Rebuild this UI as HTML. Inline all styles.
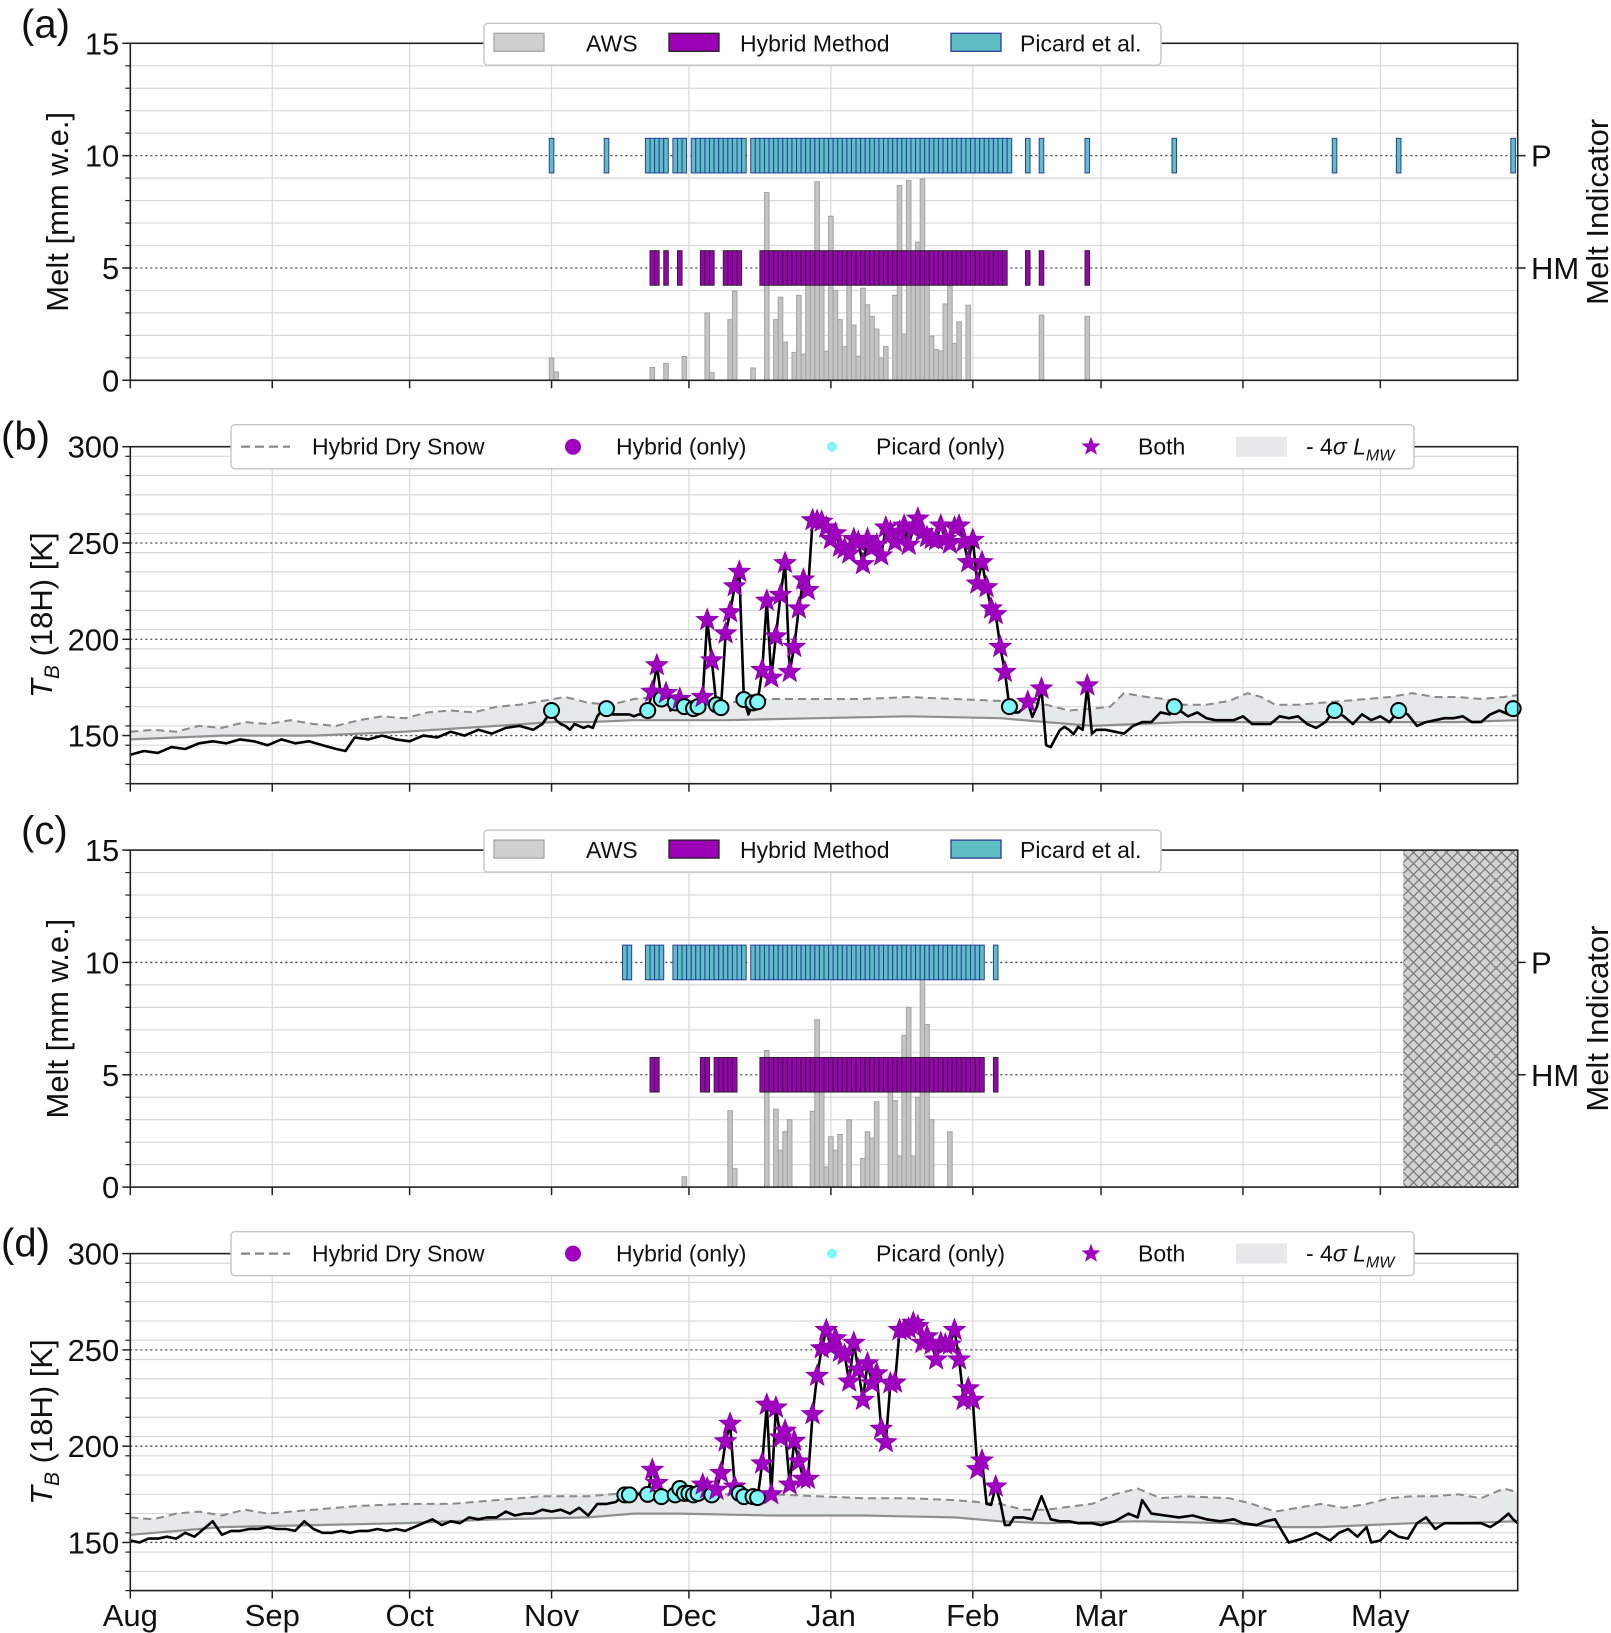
<!DOCTYPE html>
<html><head><meta charset="utf-8"><title>Melt chart</title>
<style>
html,body{margin:0;padding:0;background:#fff;}
svg{display:block;font-family:"Liberation Sans",Arial,sans-serif;}
</style></head>
<body>
<svg id="chart" width="1611" height="1633" viewBox="0 0 1611 1633" xmlns="http://www.w3.org/2000/svg">
<defs>
<pattern id="hatch" patternUnits="userSpaceOnUse" width="11" height="11">
<rect width="11" height="11" fill="#d3d3d3"/>
<path d="M0,0 L11,11 M11,0 L0,11" stroke="#777" stroke-width="1.2"/>
</pattern>
</defs>
</svg>
<script>
// ===== Data (day index = days since Aug 1) =====
const monthNames = ["Aug","Sep","Oct","Nov","Dec","Jan","Feb","Mar","Apr","May"];
const monthDays = [0,31,61,92,122,153,184,212,243,273];
const meltTicks = [0,5,10,15];
const tbTicks = [150,200,250,300];

// Panel (a) AWS melt
const awsADays = [92,93,114,117,121,126,127,131,132,136,139,141,142,143,145,146,147,148,149,150,151,152,153,154,155,156,157,158,159,160,161,162,163,164,165,167,168,169,170,171,172,173,174,175,176,177,178,179,180,181,183,199,209];
const awsAVals = [1.0,0.37,0.57,0.75,1.06,3.0,0.34,2.7,3.97,0.55,8.36,2.7,3.7,1.7,1.24,3.78,1.16,5.5,5.5,8.84,5.5,1.3,7.3,4.0,2.7,1.5,5.0,2.46,1.07,4.1,3.36,2.84,2.28,1.0,1.5,3.78,8.67,2.06,8.9,5.5,6.15,8.96,5.0,1.97,1.37,1.31,3.4,4.2,1.64,2.6,3.34,2.9,2.84];
const picardADays = [92,104,113,114,115,116,117,119,120,121,123,124,125,126,127,128,129,130,131,132,133,134].concat(Array.from({length:57},(_,i)=>136+i)).concat([196,199,209,228,263,277,302]);
const hybridADays = [114,115,117,120,125,126,127,130,131,132,133].concat(Array.from({length:54},(_,i)=>138+i)).concat([196,199,209]);

// Panel (b) brightness temperature
const tbBDays = [0,3,6,9,12,15,18,21,24,27,30,33,36,39,42,45,47,49,52,55,58,61,64,67,70,73,76,79,82,85,88,90,
92,93,94,95,96,97,98,99,100,101,102,103,104,105,106,107,108,109,110,111,112,113,114,115,116,117,118,119,120,121,122,123,124,125,126,127,128,129,130,131,132,133,134,135,136,137,138,139,140,141,142,143,144,145,146,147,148,149,150,151,152,153,154,155,156,157,158,159,160,161,162,163,164,165,166,167,168,169,170,171,172,173,174,175,176,177,178,179,180,181,182,183,184,185,186,187,188,189,190,191,192,193,194,195,196,197,198,199,200,201,202,203,204,205,206,207,208,209,210,
211,213,215,217,219,221,223,225,227,228,231,233,235,237,239,241,243,245,247,249,251,253,255,257,259,261,263,265,267,269,271,273,275,277,279,281,283,285,287,289,291,293,295,297,299,301,302,303];
const tbBVals = [140,142,141,144,143,146,147,146,148,147,145,148,146,147,145,143,142,149,148,150,148,147,150,149,152,150,153,151,154,155,153,156,
163,158,156,155,153,156,155,154,155,154,160,163,164,161,161,161,161,161,160,161,161,163,172.7,186.5,169,172,163,167,169,165,165,164,165,170,210,189,166,164.5,203,214,227.5,235,168.7,161,167,167.5,184,220,180,201.5,223,239.5,183,196,216,231,225.5,261.8,261.4,261,258,252,255,248,247,244.5,252,250.5,239,252,247.7,249,243.5,258,255.7,250.5,255.7,259,249,257.4,262.6,255.7,253,252,251.4,259,252,249.6,258,259,250.5,240,251.6,228.9,240,227,216,213,196,183,165,162,162,164,167.5,159.7,165,174.4,145,144,148.4,152.8,154.5,153,150.7,154.5,153,176,151,
153,153,152,151,155,157,157,162,161,165,160,162,159,158,158,158,160,156,156,156,160,159,160,156,154,157,163,160,156,161,158,160,157,163,161,155,157,158,159,159,160,157,157,161,163,161,164,160];
const dryBDays = [0,5,10,15,20,25,30,35,40,45,50,55,60,65,70,75,80,85,90,95,100,105,110,115,120,125,130,140,150,160,170,180,190,195,200,205,210,214,217,222,226,230,235,240,244,247,250,255,260,265,270,275,280,285,290,295,300,303];
const dryBVals = [152,153,152,155,154,157,156,158,156,155,158,160,159,162,163,162,165,166,168,170,167,166,169,170,168,169,167,169,169,169,170,169,168,168,166,163,164,165,172,170,169,166,166,168,172,170,166,166,167,168,169,170,172,170,170,169,170,171];
const lowBDays = [0,20,40,60,80,92,100,110,120,130,150,170,190,200,210,230,250,270,290,303];
const lowBVals = [148,150,150,152,155,157,157,158,158,158,159,160,159,157,155,157,157,157,157,158];

// Panel (c) AWS melt
const awsCDays = [121,131,132,139,141,142,143,144,149,150,151,152,153,154,155,157,160,161,162,163,166,167,168,169,170,171,172,173,174,175,179];
const awsCVals = [0.46,3.4,0.82,6.08,3.47,1.64,2.47,3.0,3.37,7.45,5.5,0.9,2.24,1.64,2.34,3.0,1.28,2.46,2.18,3.8,4.8,3.85,1.39,6.75,8.0,1.39,4.0,9.24,7.24,3.0,2.46];
const picardCDays = [108,109,113,114,115,116].concat(Array.from({length:16},(_,i)=>119+i)).concat(Array.from({length:51},(_,i)=>136+i)).concat([189]);
const hybridCDays = [114,115,125,126,128,129,130,131,132].concat(Array.from({length:49},(_,i)=>138+i)).concat([189]);
const noDataStart = 278;

// Panel (d) brightness temperature
const tbDDays = [0,2,4,6,8,10,12,14,16,18,20,22,24,26,28,30,32,34,36,38,40,42,44,46,48,50,52,54,56,58,60,62,64,66,68,70,72,74,76,78,80,82,84,86,88,90,92,94,96,
98,100,102,104,106,107,108,109,110,111,112,113,114,115,116,117,118,119,120,121,122,123,124,125,126,127,128,129,130,131,132,133,134,135,136,137,138,139,140,141,142,143,144,145,146,147,148,149,150,151,152,153,154,155,156,157,158,159,160,161,162,163,164,165,166,167,168,169,170,171,172,173,174,175,176,177,178,179,180,181,182,183,184,185,186,187,188,189,190,191,192,
193,195,197,199,201,203,205,207,210,212,215,218,220,221,223,226,229,232,235,238,241,243,246,248,250,253,256,259,262,264,266,268,270,271,273,275,277,279,281,283,285,287,289,291,293,295,297,299,301,302,303];
const tbDVals = [151,150,152,152,153,152,155,153,157,161,154,156,156,157,157,158,157,157,156,161,157,155,155,156,155,156,156,157,156,157,156,158,160,162,159,161,160,163,162,163,163,166,164,165,165,167,166,167,165,
168,164,170,170,171,173,174.7,174.7,175,175,175,175,187.7,180.8,173.8,173,173.5,174.7,178,175.5,175.5,174.7,175.5,180,178,174.7,177.3,186,202.5,211.6,179,175.5,173.8,173,173.8,173.3,191,221.5,175,220,204.5,208,180,202.7,192,183,183,216.6,236.5,250.8,260.3,251.6,256,249,247.4,233.5,253.6,239.7,224,243,232.6,237.8,209,202,232.6,233,260.3,260.3,261,264,262.3,253.6,257,252.7,245,253.6,252.7,252.7,260.3,245,224,230,224,188,192.5,170,169.5,179,171,159,159,
163,163,162,174,162,161,161,160,160,159,161,165,163,172,165,164,163,164,162,161,162,160,159,161,162,150,152,155,151,155,157,153,158,150,151,156,153,152,160,163,157,160,160,160,160,160,158,161,165,162,160];
const dryDDays = [0,5,10,15,20,25,30,40,50,60,70,80,90,100,110,120,130,140,150,160,170,180,190,195,200,210,215,220,225,230,240,245,250,255,260,265,270,275,280,285,290,295,300,303];
const dryDVals = [163,162,165,166,164,167,165,167,169,170,170,172,174,174,176,176,175,175,174,173,173,172,170,167,167,170,175,178,173,174,173,170,166,168,170,168,170,173,174,174,175,173,178,176];
const lowDDays = [0,20,40,60,80,100,110,120,140,160,180,190,200,220,240,250,260,270,280,290,303];
const lowDVals = [154,158,159,160,162,163,165,165,164,164,163,161,160,161,160,158,158,159,160,160,161];

// ===== Layout =====
const NS = "http://www.w3.org/2000/svg";
const svg = document.getElementById("chart");
const X0 = 130.3, X1 = 1517.7, NDAYS = 303, H = 337;
const TICKFS = 31;
const xS = d => X0 + d * (X1 - X0) / NDAYS;
function mk(tag, attrs, parent) {
  const e = document.createElementNS(NS, tag);
  for (const k in attrs) e.setAttribute(k, attrs[k]);
  (parent || svg).appendChild(e);
  return e;
}
function txt(s, attrs, parent) { const t = mk("text", attrs, parent); t.textContent = s; return t; }
function line(x1,y1,x2,y2,st,parent){ return mk("line",{x1:x1,y1:y1,x2:x2,y2:y2,style:st},parent); }

function frameAndGrid(g, top, ymin, ymax, minorStep, majorVals) {
  const yS = v => top + (ymax - v) / (ymax - ymin) * H;
  for (let v = ymin; v <= ymax + 0.001; v += minorStep) {
    if (v === ymin || v === ymax) continue;
    if (majorVals.indexOf(v) >= 0) continue;
    line(X0, yS(v), X1, yS(v), "stroke:#d9d9d9;stroke-width:1.2", g);
  }
  for (const m of monthDays) { if (m > 0) line(xS(m), top, xS(m), top + H, "stroke:#d9d9d9;stroke-width:1.2", g); }
  for (const v of majorVals) { if (v > ymin && v < ymax) line(X0, yS(v), X1, yS(v), "stroke:#444;stroke-width:1.3;stroke-dasharray:2,3", g); }
  return yS;
}
function axesOverlay(g, top, ymin, ymax, minorStep, tickVals, showMonths, yS) {
  mk("rect",{x:X0,y:top,width:X1-X0,height:H,fill:"none",stroke:"#222","stroke-width":1.6},g);
  for (let v = ymin; v <= ymax + 0.001; v += minorStep) line(X0-5, yS(v), X0, yS(v), "stroke:#222;stroke-width:1.2", g);
  for (const v of tickVals) {
    line(X0-8, yS(v), X0, yS(v), "stroke:#222;stroke-width:1.5", g);
    const t = txt(String(v), {x:X0-11, y:yS(v)+11, "text-anchor":"end", "font-size":TICKFS, fill:"#111"}, g);
    
    
  }
  for (let i = 0; i < monthDays.length; i++) {
    line(xS(monthDays[i]), top+H, xS(monthDays[i]), top+H+8, "stroke:#222;stroke-width:1.5", g);
    if (showMonths) {
      const t = txt(monthNames[i], {x:xS(monthDays[i]), y:1626, "text-anchor":"middle", "font-size":TICKFS, fill:"#111"}, g);
      
      
    }
  }
}

function meltPanel(top, letter, awsDays, awsVals, pDays, hDays, hatchFrom) {
  const g = mk("g", {});
  
  
  const yS = frameAndGrid(g, top, 0, 15, 1, [5,10]);
  const bw = (X1 - X0) / NDAYS;
  for (let i = 0; i < awsDays.length; i++) {
    const r = mk("rect", {x:xS(awsDays[i])-bw/2, y:yS(awsVals[i]), width:bw, height:yS(0)-yS(awsVals[i]), fill:"#c4c4c4", stroke:"#a3a3a3", "stroke-width":1}, g);
    
    
  }
  for (const d of pDays) {
    const r = mk("rect", {x:xS(d)-bw/2, y:yS(10.77), width:bw, height:yS(9.23)-yS(10.77), fill:"#5fbec4", stroke:"#2a3f9a", "stroke-width":1}, g);
    
    
  }
  for (const d of hDays) {
    const r = mk("rect", {x:xS(d)-bw/2, y:yS(5.77), width:bw, height:yS(4.23)-yS(5.77), fill:"#9c00b4", stroke:"#2a2a2a", "stroke-width":1}, g);
    
    
  }
  if (hatchFrom !== null) {
    const r = mk("rect", {x:xS(hatchFrom), y:top, width:X1-xS(hatchFrom), height:H, fill:"url(#hatch)"}, g);
    
    
  }
  axesOverlay(g, top, 0, 15, 1, meltTicks, false, yS);
  line(X1, yS(10), X1+8, yS(10), "stroke:#222;stroke-width:1.5", g);
  line(X1, yS(5), X1+8, yS(5), "stroke:#222;stroke-width:1.5", g);
  let t = txt("P", {x:1531, y:yS(10)+11, "font-size":TICKFS, fill:"#111"}, g);
  
  
  t = txt("HM", {x:1531, y:yS(5)+11, "font-size":TICKFS, fill:"#111"}, g);
  
  
  t = txt("Melt Indicator", {x:0, y:0, "font-size":31, fill:"#111", "text-anchor":"middle", transform:"translate(1608," + (top+H/2) + ") rotate(-90)"}, g);
  
  
  t = txt("Melt [mm w.e.]", {x:0, y:0, "font-size":31, fill:"#111", "text-anchor":"middle", transform:"translate(68," + (top+H/2) + ") rotate(-90)"}, g);
  
  
  t = txt("(" + letter + ")", {x:21, y:top-6, "font-size":40, fill:"#111"}, g);
  
  
  const lg = mk("g", {}, g);
  
  
  mk("rect", {x:484, y:top-20, width:677, height:42, rx:4, fill:"#fff", stroke:"#c8c8c8", "stroke-width":1.5}, lg);
  const items = [["AWS","#cfcfcf","#a6a6a6",494,586],["Hybrid Method","#9c00b4","#222",669,740],["Picard et al.","#5fbec4","#2a3f9a",951,1020]];
  for (const it of items) {
    const sw = mk("rect", {x:it[3], y:top-10, width:50, height:18, fill:it[1], stroke:it[2], "stroke-width":1.3}, lg);
    
    
    const lt = txt(it[0], {x:it[4], y:top+8, "font-size":23, fill:"#111"}, lg);
    
    
  }
}

function starPts(cx, cy, R) {
  const r = R * 0.42, p = [];
  for (let i = 0; i < 10; i++) {
    const a = -Math.PI/2 + i * Math.PI/5, rr = i % 2 ? r : R;
    p.push((cx + rr*Math.cos(a)).toFixed(1) + "," + (cy + rr*Math.sin(a)).toFixed(1));
  }
  return p.join(" ");
}
function pathFrom(days, vals, yS) {
  return days.map((d,i)=> (i?"L":"M") + xS(d).toFixed(1) + "," + yS(vals[i]).toFixed(1)).join(" ");
}

function tbPanel(top, letter, days, vals, dDays, dVals, lDays, lVals, pDays, hDays, showMonths) {
  const g = mk("g", {});
  
  
  const yS = frameAndGrid(g, top, 125, 300, 10, [150,200,250]);
  const up = pathFrom(dDays, dVals, yS);
  const lowRev = lDays.slice().reverse().map((d,i)=> "L" + xS(d).toFixed(1) + "," + yS(lVals[lDays.length-1-i]).toFixed(1)).join(" ");
  let e = mk("path", {d: up + " " + lowRev + " Z", fill:"#e6e9e9", stroke:"none"}, g);
  
  
  e = mk("path", {d: pathFrom(lDays, lVals, yS), fill:"none", stroke:"#8f8f8f", "stroke-width":2.2}, g);
  
  
  e = mk("path", {d: pathFrom(dDays, dVals, yS), fill:"none", stroke:"#8a8a8a", "stroke-width":2, "stroke-dasharray":"8,5"}, g);
  
  
  e = mk("path", {d: pathFrom(days, vals, yS), fill:"none", stroke:"#000", "stroke-width":2.6, "stroke-linejoin":"round"}, g);
  
  
  for (let i = 0; i < days.length; i++) {
    const d = days[i], inP = pDays.indexOf(d) >= 0, inH = hDays.indexOf(d) >= 0;
    if (!inP && !inH) continue;
    const cx = xS(d), cy = yS(vals[i]);
    if (inP && inH) {
      const s = mk("polygon", {points: starPts(cx, cy, 11.5), fill:"#a000c0", stroke:"#8a00a8", "stroke-width":0.8}, g);
      
      
    } else if (inP) {
      const c = mk("circle", {cx:cx, cy:cy, r:7.5, fill:"#80f8f8", stroke:"#000", "stroke-width":2}, g);
      
      
    } else {
      const c = mk("circle", {cx:cx, cy:cy, r:7.5, fill:"#a000c0", stroke:"#000", "stroke-width":2}, g);
      
      
    }
  }
  axesOverlay(g, top, 125, 300, 10, tbTicks, showMonths, yS);
  let t = mk("text", {x:0, y:0, "font-size":31, fill:"#111", "text-anchor":"middle", transform:"translate(52," + (top+H/2) + ") rotate(-90)"}, g);
  let s1 = mk("tspan", {"font-style":"italic"}, t); s1.textContent = "T";
  let s2 = mk("tspan", {"font-style":"italic", "font-size":21, dy:7}, t); s2.textContent = "B";
  let s3 = mk("tspan", {dy:-7}, t); s3.textContent = " (18H) [K]";
  
  
  t = txt("(" + letter + ")", {x:1, y:top+3, "font-size":40, fill:"#111"}, g);
  
  
  const lg = mk("g", {}, g);
  
  
  mk("rect", {x:231, y:top-22, width:1183, height:44, rx:4, fill:"#fff", stroke:"#c8c8c8", "stroke-width":1.5}, lg);
  const ly = top;
  line(241, ly, 290, ly, "stroke:#858585;stroke-width:2.2;stroke-dasharray:9,5", lg);
  let c = mk("circle", {cx:573, cy:ly, r:8, fill:"#a000c0"}, lg);
  
  
  c = mk("circle", {cx:832, cy:ly, r:5, fill:"#80f8f8"}, lg);
  
  
  c = mk("polygon", {points: starPts(1091, ly, 10), fill:"#a000c0"}, lg);
  
  
  c = mk("rect", {x:1236, y:ly-10, width:51, height:20, fill:"#e6e9e9"}, lg);
  
  
  const labels = [["Hybrid Dry Snow",312],["Hybrid (only)",616],["Picard (only)",876],["Both",1138]];
  for (const L of labels) {
    const lt = txt(L[0], {x:L[1], y:ly+8, "font-size":23, fill:"#111"}, lg);
    
    
  }
  const lt = mk("text", {x:1306, y:ly+8, "font-size":23, fill:"#111"}, lg);
  let a1 = mk("tspan", {}, lt); a1.textContent = "- 4";
  let a2 = mk("tspan", {"font-style":"italic"}, lt); a2.textContent = "σ L";
  let a3 = mk("tspan", {"font-style":"italic", "font-size":16, dy:6}, lt); a3.textContent = "MW";
  
  
}

meltPanel(43.3, "a", awsADays, awsAVals, picardADays, hybridADays, null);
tbPanel(446.7, "b", tbBDays, tbBVals, dryBDays, dryBVals, lowBDays, lowBVals, picardADays, hybridADays, false);
meltPanel(850.1, "c", awsCDays, awsCVals, picardCDays, hybridCDays, noDataStart);
tbPanel(1253.6, "d", tbDDays, tbDVals, dryDDays, dryDVals, lowDDays, lowDVals, picardCDays, hybridCDays, true);
</script>
</body></html>
